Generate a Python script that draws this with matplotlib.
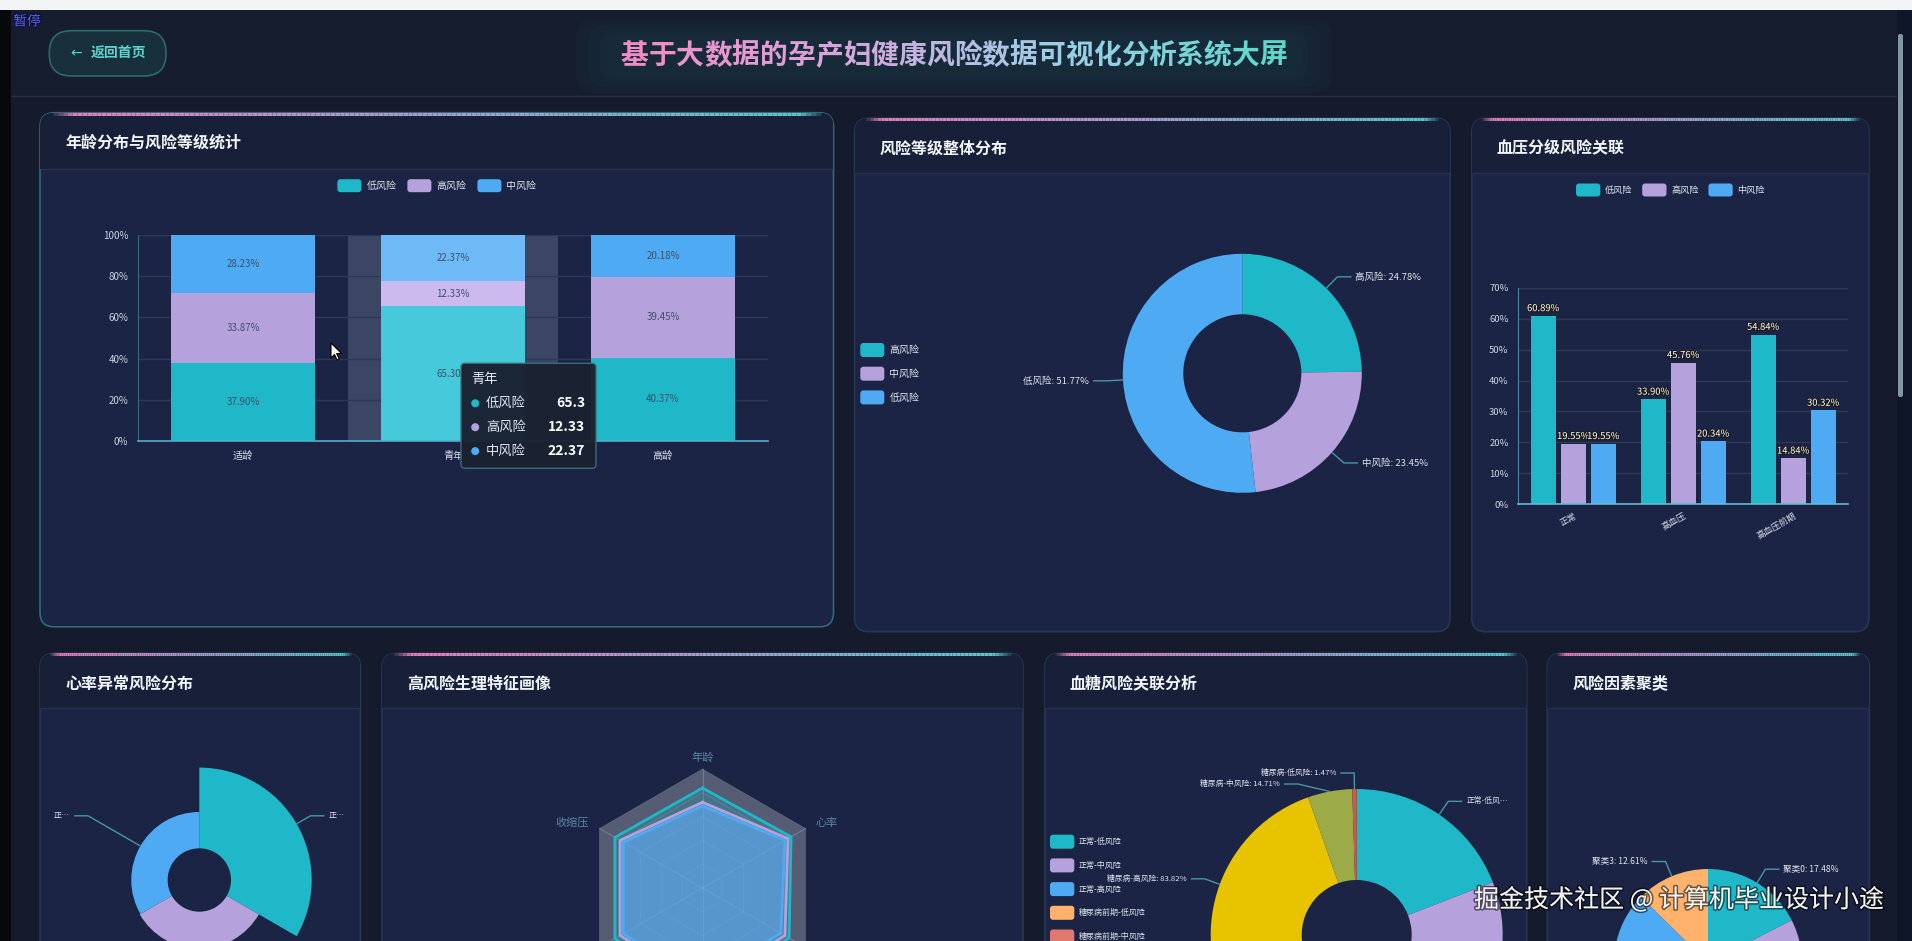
import numpy as np
import matplotlib
matplotlib.use('Agg')
import matplotlib.pyplot as plt
import matplotlib.colors as mcolors
import matplotlib.patheffects as pe
from matplotlib.patches import FancyBboxPatch, Rectangle, Polygon, Circle
from matplotlib.collections import LineCollection

plt.rcParams['font.family'] = ['Noto Sans CJK SC', 'DejaVu Sans']
plt.rcParams['axes.unicode_minus'] = False

# ---------------- data ----------------
page_title = '基于大数据的孕产妇健康风险数据可视化分析系统大屏'
back_label = '返回首页'
pause_label = '暂停'
watermark = '掘金技术社区 @ 计算机毕业设计小途'

panel_titles = ['年龄分布与风险等级统计', '风险等级整体分布', '血压分级风险关联',
                '心率异常风险分布', '高风险生理特征画像', '血糖风险关联分析', '风险因素聚类']

risk_series = ['低风险', '高风险', '中风险']
age_groups = ['适龄', '青年', '高龄']
age_low = [37.90, 65.30, 40.37]
age_high = [33.87, 12.33, 39.45]
age_mid = [28.23, 22.37, 20.18]
age_hover = '青年'
age_ticks = [0, 20, 40, 60, 80, 100]

overall_names = ['高风险', '中风险', '低风险']
overall_pct = [24.78, 23.45, 51.77]

bp_groups = ['正常', '高血压', '高血压前期']
bp_low = [60.89, 33.90, 54.84]
bp_high = [19.55, 45.76, 14.84]
bp_mid = [19.55, 20.34, 30.32]
bp_ticks = [0, 10, 20, 30, 40, 50, 60, 70]

hr_names = ['正常心率-低风险', '正常心率-中风险', '正常心率-高风险']
hr_values = [220, 101, 99]

radar_indicators = ['年龄', '收缩压', '舒张压', '血糖', '体温', '心率']
radar_low = [0.84, 0.85, 0.85, 0.88, 0.84, 0.86]
radar_high = [0.72, 0.80, 0.80, 0.82, 0.80, 0.83]
radar_mid = [0.69, 0.77, 0.77, 0.78, 0.76, 0.80]

sugar_names = ['正常-低风险', '正常-中风险', '正常-高风险',
               '糖尿病前期-低风险', '糖尿病前期-中风险', '糖尿病前期-高风险',
               '糖尿病-高风险', '糖尿病-中风险', '糖尿病-低风险']
sugar_counts = [39, 20, 6, 30, 25, 16, 57, 10, 1]

cluster_names = ['聚类0', '聚类1', '聚类2', '聚类3']
cluster_pct = [17.48, 36.70, 33.21, 12.61]

# ---------------- style ----------------
W, H, DPI = 1912, 941, 100
BG = '#151b2c'
PANEL_BODY = '#1b2444'
PANEL_HEAD = '#172038'
TEAL, LAV, BLUE = '#1fb8c9', '#b5a1dc', '#4eabf3'
PALETTE = [TEAL, LAV, BLUE, '#ffb26b', '#e0786f', '#7fc48a', '#e8c300', '#9caa48', '#c4604a']
HOVER = ['#46c9da', '#ccbaee', '#6dbaf6']
LINE_C = '#4896a6'
TXT = '#dde4ef'
GRID = '#2c3956'

fig = plt.figure(figsize=(W / DPI, H / DPI), dpi=DPI)
fig.patch.set_facecolor(BG)


def px_axes(x0, y0, x1, y1, z=5, **kw):
    ax = fig.add_axes([x0 / W, 1 - y1 / H, (x1 - x0) / W, (y1 - y0) / H], **kw)
    ax.set_zorder(z)
    ax.patch.set_alpha(0)
    return ax


def canvas(z):
    ax = px_axes(0, 0, W, H, z=z)
    ax.set_xlim(0, W)
    ax.set_ylim(H, 0)
    ax.axis('off')
    return ax


base = canvas(0)
over = canvas(20)


def text_w(s, fs):
    px = fs * DPI / 72
    return sum(px if (ord(c) >= 0x2E80 or c == '…') else 0.56 * px for c in s)


def fit(s, fs, avail):
    if text_w(s, fs) <= avail:
        return s
    for n in range(len(s) - 1, 0, -1):
        t = s[:n] + '…'
        if text_w(t, fs) <= avail:
            return t
    return None


def pie_callouts(cx, cy, weights, anchor_r, rb, texts, xlim, fs, len2=14, gap=11, margin=12):
    w = np.asarray(weights, float)
    cum = np.cumsum(w)
    mids = np.radians(90 - 360 * (cum - w / 2) / w.sum())
    ar = np.broadcast_to(np.asarray(anchor_r, float), w.shape)
    items = []
    for i, m in enumerate(mids):
        side = 1 if np.cos(m) >= -1e-9 else -1
        items.append(dict(side=side, ax=cx + ar[i] * np.cos(m), ay=cy - ar[i] * np.sin(m),
                          ey=cy - rb * np.sin(m), t=texts[i]))
    for side in (1, -1):
        its = sorted([d for d in items if d['side'] == side], key=lambda d: d['ey'])
        for a, b in zip(its, its[1:]):
            if b['ey'] - a['ey'] < gap:
                b['ey'] = a['ey'] + gap
    for d in items:
        if d['ey'] > H - 4:      # label row lies below the visible page
            continue
        s = d['side']
        dy = cy - d['ey']
        ex = cx + s * np.sqrt(max(rb ** 2 - dy ** 2, 0))
        tx = ex + s * (len2 + 4)
        avail = (xlim[1] - margin - tx) if s > 0 else (tx - xlim[0] - margin)
        label = fit(d['t'], fs, avail)
        if label is None:
            continue
        over.plot([d['ax'], ex, ex + s * len2], [d['ay'], d['ey'], d['ey']],
                  color=LINE_C, lw=1, solid_capstyle='butt')
        over.text(tx, d['ey'], label, ha='left' if s > 0 else 'right', va='center',
                  fontsize=fs, color=TXT)


def legend_items(names, colors, x0, y, step_x=0, step_y=0, fs=7, w=24, h=13, tdx=29, ax=None):
    ax = ax or base
    for i, (n, c) in enumerate(zip(names, colors)):
        x = x0 + i * step_x
        yy = y + i * step_y
        if yy - h / 2 > H:      # item lies below the visible page
            continue
        ax.add_patch(FancyBboxPatch((x, yy - h / 2), w, h, boxstyle='round,pad=0,rounding_size=3',
                                    fc=c, ec='none', zorder=3))
        ax.text(x + tdx, yy, n, ha='left', va='center', fontsize=fs, color=TXT, zorder=3)


def grad_line(x0, x1, y, lw=2.2):
    n = 160
    xs = np.linspace(x0, x1, n + 1)
    segs = [[(xs[i], y), (xs[i + 1], y)] for i in range(n)]
    cm = mcolors.LinearSegmentedColormap.from_list('g', ['#e27cb8', '#a39ccc', '#58c6c6'])
    t = np.linspace(0, 1, n)
    cols = []
    for tt in t:
        r, g, b, _ = cm(tt)
        cols.append((r, g, b, max(0.0, min(1.0, tt / 0.03, (1 - tt) / 0.03))))
    base.add_collection(LineCollection(segs, colors=cols, linewidths=lw, zorder=1.6))


def panel(x0, y0, x1, y1, hdr, title, hovered=False):
    ec = '#2f6a78' if hovered else '#26384f'
    body = FancyBboxPatch((x0, y0), x1 - x0, y1 - y0, boxstyle='round,pad=0,rounding_size=14',
                          fc=PANEL_BODY, ec=ec, lw=1.2, zorder=1)
    base.add_patch(body)
    hd = Rectangle((x0, y0), x1 - x0, hdr - y0, fc=PANEL_HEAD, ec='none', zorder=1.1)
    base.add_patch(hd)
    hd.set_clip_path(body)
    base.plot([x0 + 1, x1 - 1], [hdr, hdr], color='#25314b', lw=1, zorder=1.2)
    grad_line(x0 + 8, x1 - 8, y0 + 0.8)
    base.text(x0 + 25, (y0 + hdr) / 2 + 2.5, title, color='#f2f5fa', fontsize=11.5,
              fontweight='bold', va='center', ha='left', zorder=2)


# ---------------- page chrome ----------------
base.add_patch(Rectangle((0, 0), W, 10, fc='#f3f4f6', ec='none', zorder=0.5))
base.add_patch(Rectangle((0, 10), W, 86, fc='#161d2f', ec='none', zorder=0.4))
base.plot([0, W], [96, 96], color='#27324b', lw=1, zorder=0.5)
base.add_patch(Rectangle((0, 10), 11, H, fc='#07080c', ec='none', zorder=0.6))
base.add_patch(Rectangle((1897, 10), 15, H, fc='#10162a', ec='none', zorder=0.6))
base.add_patch(FancyBboxPatch((1898, 34), 5, 363, boxstyle='round,pad=0,rounding_size=2',
                              fc='#7f98a4', ec='none', zorder=0.7))

over.text(27, 21.5, pause_label, color='#5a67f0', fontsize=10, ha='center', va='center',
          path_effects=[pe.withStroke(linewidth=1.5, foreground='#0a0a30')])

base.add_patch(FancyBboxPatch((49.3, 30.7), 116.7, 45.3, boxstyle='round,pad=0,rounding_size=22',
                              fc='#17303b', ec='#2d6870', lw=1.2, zorder=1))
base.text(76, 53, '←', color='#5fd3cf', fontsize=10, ha='center', va='center',
          family='DejaVu Sans', zorder=2)
base.text(91, 54, back_label, color='#5fd3cf', fontsize=10, fontweight='bold',
          ha='left', va='center', zorder=2)

# title glow + gradient characters
for k in range(6):
    base.add_patch(FancyBboxPatch((606 - k * 6, 34 - k * 3), 696 + k * 12, 44 + k * 6,
                                  boxstyle='round,pad=0,rounding_size=18', fc='#1f4a55',
                                  ec='none', alpha=0.07, zorder=0.8))
tfs = 20
em = tfs * DPI / 72
tcm = mcolors.LinearSegmentedColormap.from_list('t', ['#f28cc6', '#d6a6dc', '#9ccfe6', '#5ed8cc'])
tx0 = 954 - len(page_title) * em / 2
for i, ch in enumerate(page_title):
    base.text(tx0 + (i + 0.5) * em, 56, ch, color=tcm(i / (len(page_title) - 1)), fontsize=tfs,
              fontweight='bold', ha='center', va='center', zorder=2)

# ---------------- panels ----------------
panel(40, 112.7, 833.5, 626.8, 168.5, panel_titles[0], hovered=True)
panel(854.6, 118.3, 1450, 631.7, 173.3, panel_titles[1])
panel(1471.7, 118.3, 1869, 631.7, 173.3, panel_titles[2])
panel(40, 653.3, 360.5, 1000, 708.3, panel_titles[3])
panel(382, 653.3, 1023, 1000, 708.3, panel_titles[4])
panel(1045, 653.3, 1526.7, 1000, 708.3, panel_titles[5])
panel(1547.3, 653.3, 1869.3, 1000, 708.3, panel_titles[6])


def style_cart(ax, left_c, bottom_c):
    for s in ('top', 'right'):
        ax.spines[s].set_visible(False)
    ax.spines['left'].set_color(left_c)
    ax.spines['bottom'].set_color(bottom_c)
    ax.spines['bottom'].set_linewidth(1.2)
    ax.yaxis.grid(True, color=GRID, lw=1)
    ax.set_axisbelow(True)


# ---------------- chart 1: stacked percent bars ----------------
ax1 = px_axes(138, 235, 768, 441)
x1 = np.arange(len(age_groups))
hi = age_groups.index(age_hover)
ax1.axvspan(hi - 0.5, hi + 0.5, color='#3a4663', lw=0, zorder=0.5)
series1 = [age_low, age_high, age_mid]
bottoms = np.zeros(len(age_groups))
for k, vals in enumerate(series1):
    cols = [HOVER[k] if g == age_hover else PALETTE[k] for g in age_groups]
    ax1.bar(x1, vals, bottom=bottoms, width=0.69, color=cols, zorder=2)
    for xi, v, b in zip(x1, vals, bottoms):
        ax1.text(xi, b + v / 2, f'{v:.2f}%', ha='center', va='center', fontsize=7,
                 color='#3f4f6c', zorder=3)
    bottoms = bottoms + np.asarray(vals)
ax1.set_xlim(-0.5, len(age_groups) - 0.5)
ax1.set_ylim(0, 100)
ax1.set_yticks(age_ticks)
ax1.set_yticklabels([f'{t}%' for t in age_ticks])
ax1.set_xticks(x1)
ax1.set_xticklabels(age_groups)
style_cart(ax1, '#3b6b82', '#4fb0c4')
ax1.tick_params(axis='y', length=0, pad=7, labelsize=7, labelcolor='#cdd6e4')
ax1.tick_params(axis='x', length=0, pad=7, labelsize=7.3, labelcolor='#d6deea')
legend_items(risk_series, PALETTE[:3], 337.4, 185.7, step_x=70, fs=7.2)

# tooltip
over.add_patch(FancyBboxPatch((461, 363.3), 135, 105, boxstyle='round,pad=0,rounding_size=4',
                              fc='#1a2232', ec='#3b6e78', lw=1, alpha=0.97))
over.text(471, 380, age_hover, color='#e8edf5', fontsize=9.5, va='center', ha='left')
for k, name in enumerate(risk_series):
    yy = 403.3 + k * 23.9
    over.add_patch(Circle((475.2, yy), 4, fc=PALETTE[k], ec='none'))
    over.text(486, yy, name, color='#e2e8f1', fontsize=9.5, va='center', ha='left')
    over.text(585, yy, f'{series1[k][hi]:g}', color='white', fontsize=10, fontweight='bold',
              va='center', ha='right')
# mouse cursor
cur = np.array([(0, 0), (0, 15), (3.5, 11.5), (6, 17), (8.2, 16), (5.6, 10.6), (10.5, 10.5)])
over.add_patch(Polygon(cur + [331, 343], closed=True, fc='white', ec='black', lw=0.8))

# ---------------- chart 2: donut ----------------
cx2, cy2, R2 = 1242.3, 373.3, 119.5
ax2 = px_axes(cx2 - R2, cy2 - R2, cx2 + R2, cy2 + R2)
ax2.pie(overall_pct, colors=PALETTE[:3], startangle=90, counterclock=False, radius=1,
        wedgeprops=dict(width=0.506, edgecolor='none'))
ax2.set_xlim(-1, 1)
ax2.set_ylim(-1, 1)
pie_callouts(cx2, cy2, overall_pct, R2, R2 + 16,
             [f'{n}: {v:.2f}%' for n, v in zip(overall_names, overall_pct)],
             (854.6, 1450), fs=6.8)
legend_items(overall_names, PALETTE[:3], 860.3, 350, step_y=23.7, fs=7.2, h=14, tdx=29)

# ---------------- chart 3: grouped bars ----------------
ax3 = px_axes(1518.3, 287.7, 1848.3, 504.3)
xb = np.arange(len(bp_groups))
for k, vals in enumerate([bp_low, bp_high, bp_mid]):
    xs = xb + (k - 1) * 0.273
    ax3.bar(xs, vals, width=0.227, color=PALETTE[k], zorder=2)
    for xv, v in zip(xs, vals):
        ax3.annotate(f'{v:.2f}%', (xv, v), xytext=(0, 2), textcoords='offset points',
                     ha='center', va='bottom', fontsize=6.8, color='white', zorder=4,
                     path_effects=[pe.withStroke(linewidth=1.6, foreground='#1c1c1c')])
ax3.set_xlim(-0.5, len(bp_groups) - 0.5)
ax3.set_ylim(0, 70)
ax3.set_yticks(bp_ticks)
ax3.set_yticklabels([f'{t}%' for t in bp_ticks])
ax3.set_xticks(xb)
ax3.set_xticklabels(bp_groups, rotation=30, ha='right', rotation_mode='anchor')
style_cart(ax3, '#4e86a0', '#63bcd0')
ax3.tick_params(axis='y', length=0, pad=7, labelsize=6.8, labelcolor='#cdd6e4')
ax3.tick_params(axis='x', length=0, pad=5, labelsize=6.3, labelcolor='#d6deea')
legend_items(risk_series, PALETTE[:3], 1576, 190, step_x=66.2, fs=6.6, w=24.3)

# ---------------- chart 4: rose ----------------
cx4, cy4, r_in, r_out, box4 = 199.3, 880, 31.7, 112.4, 118
hr = np.asarray(hr_values, float)
kpx = (r_out - r_in) / hr.max()
ax4 = px_axes(cx4 - box4, cy4 - box4, cx4 + box4, cy4 + box4, projection='polar')
n4 = len(hr)
th4 = np.arange(n4) * 2 * np.pi / n4 + np.pi / n4
ax4.set_theta_zero_location('N')
ax4.set_theta_direction(-1)
ax4.bar(th4, hr, width=2 * np.pi / n4, bottom=r_in / kpx, color=PALETTE[:n4], edgecolor='none')
ax4.set_ylim(0, box4 / kpx)
ax4.set_axis_off()
pie_callouts(cx4, cy4, np.ones(n4), r_in + kpx * hr, r_out + 16, hr_names,
             (40, 360.5), fs=5.8)

# ---------------- chart 5: radar ----------------
cx5, cy5, R5 = 702.5, 888, 119
ax5 = px_axes(cx5 - 150, cy5 - 150, cx5 + 150, cy5 + 150)
lim5 = 150 / R5
ax5.set_xlim(-lim5, lim5)
ax5.set_ylim(-lim5, lim5)
ax5.axis('off')
nI = len(radar_indicators)
phi = np.arange(nI) * 2 * np.pi / nI
ux, uy = -np.sin(phi), np.cos(phi)
uxc, uyc = np.append(ux, ux[0]), np.append(uy, uy[0])
ax5.fill(ux, uy, color='white', alpha=0.26, lw=0, zorder=1)
for lv in (0.2, 0.4, 0.6, 0.8, 1.0):
    ax5.plot(uxc * lv, uyc * lv, color='white', alpha=0.1, lw=0.8, zorder=1.2)
for i in range(nI):
    ax5.plot([0, ux[i]], [0, uy[i]], color='#a8bad2', alpha=0.35, lw=0.8, zorder=1.2)
for vals, col, fa in [(radar_low, PALETTE[0], 0.25), (radar_high, PALETTE[1], 0.25),
                      (radar_mid, PALETTE[2], 0.55)]:
    v = np.asarray(vals)
    ax5.fill(ux * v, uy * v, color=col, alpha=fa, lw=0, zorder=2)
    vc = np.append(v, v[0])
    ax5.plot(uxc * vc, uyc * vc, color=col, lw=2, zorder=3)
for i, name in enumerate(radar_indicators):
    if cy5 - 1.1 * uy[i] * R5 > H - 4:    # indicator name lies below the visible page
        continue
    ha = 'center' if abs(ux[i]) < 1e-6 else ('right' if ux[i] < 0 else 'left')
    ax5.text(1.1 * ux[i], 1.1 * uy[i], name, ha=ha, va='center', fontsize=8, color='#5a84a6')

# ---------------- chart 6: sugar donut ----------------
cx6, cy6, R6 = 1356.7, 935, 146
ax6 = px_axes(cx6 - R6, cy6 - R6, cx6 + R6, cy6 + R6)
ax6.pie(sugar_counts, colors=PALETTE[:len(sugar_counts)], startangle=90, counterclock=False,
        radius=1, wedgeprops=dict(width=(146 - 55) / 146, edgecolor='none'))
ax6.set_xlim(-1, 1)
ax6.set_ylim(-1, 1)
groups = [n.split('-')[0] for n in sugar_names]
gtot = {g: sum(c for gg, c in zip(groups, sugar_counts) if gg == g) for g in set(groups)}
sugar_txt = [f'{n}: {100 * c / gtot[g]:.2f}%' for n, c, g in zip(sugar_names, sugar_counts, groups)]
pie_callouts(cx6, cy6, sugar_counts, R6, R6 + 16, sugar_txt, (1045, 1526.7), fs=5.6)
legend_items(sugar_names, PALETTE[:len(sugar_names)], 1050, 841.7, step_y=23.7, fs=5.8,
             w=24.3, h=14, tdx=29)

# ---------------- chart 7: cluster pie ----------------
cx7, cy7, R7 = 1708, 963, 94
ax7 = px_axes(cx7 - R7, cy7 - R7, cx7 + R7, cy7 + R7)
ax7.pie(cluster_pct, colors=[PALETTE[0], PALETTE[1], PALETTE[2], PALETTE[3]], startangle=90,
        counterclock=False, radius=1, wedgeprops=dict(edgecolor='none'))
ax7.set_xlim(-1, 1)
ax7.set_ylim(-1, 1)
pie_callouts(cx7, cy7, cluster_pct, R7, R7 + 16,
             [f'{n}: {v:.2f}%' for n, v in zip(cluster_names, cluster_pct)],
             (1547.3, 1869.3), fs=6.2)

# ---------------- watermark ----------------
over.text(1884, 900, watermark, ha='right', va='center', fontsize=18, color='#f4f4f4',
          path_effects=[pe.withStroke(linewidth=2.2, foreground=(0, 0, 0, 0.55))])

fig.savefig('out.png', dpi=DPI, facecolor=BG)
